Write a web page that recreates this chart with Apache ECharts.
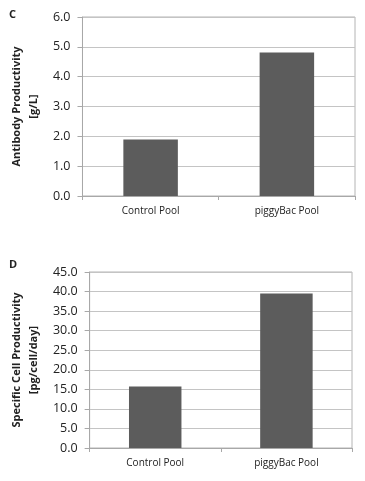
<!DOCTYPE html>
<html><head><meta charset="utf-8">
<script src="https://cdn.jsdelivr.net/npm/echarts@6/dist/echarts.min.js"></script>
<style>html,body{margin:0;padding:0;background:#fff}#c{width:365px;height:481px}</style>
</head><body><div id="c"></div>
<script>
const categories = ['Control Pool', 'piggyBac Pool'];
const antibodyValues = [1.89, 4.81];
const specificValues = [15.7, 39.5];
const ticksC = { min: 0, max: 6, interval: 1 };
const ticksD = { min: 0, max: 45, interval: 5 };

const font = '"Open Sans", "Liberation Sans", sans-serif';
const chart = echarts.init(document.getElementById('c'), null, {renderer: 'canvas'});
function xAx(gi){return {type:'category', gridIndex:gi, data:categories,
  axisLine:{lineStyle:{color:'#a8a8a8'}}, axisTick:{show:true, alignWithLabel:false, length:4, lineStyle:{color:'#a8a8a8'}},
  axisLabel:{color:'#222', fontSize:10, fontFamily:font, margin:10}};}
function yAx(gi, t, name){return {type:'value', gridIndex:gi, min:t.min, max:t.max, interval:t.interval,
  name:name, nameLocation:'middle', nameRotate:90, nameGap:37,
  nameTextStyle:{fontSize:11, fontWeight:'bold', fontFamily:font, color:'#222', lineHeight:17},
  axisLine:{show:true, lineStyle:{color:'#a8a8a8'}}, axisTick:{show:true, length:5, lineStyle:{color:'#a8a8a8'}},
  splitLine:{lineStyle:{color:'#c4c4c4'}},
  axisLabel:{color:'#222', fontSize:12.5, fontFamily:font, margin:12, formatter:v=>v.toFixed(1)}};}
chart.setOption({
  animation:false,
  graphic:[
    {type:'text', left:9, top:9, style:{text:'C', fontSize:11, fontWeight:'bold', fontFamily:font, fill:'#222'}},
    {type:'text', left:9, top:259, style:{text:'D', fontSize:11, fontWeight:'bold', fontFamily:font, fill:'#222'}}
  ],
  grid:[
    {left:80, top:17, width:275, height:179, show:true, borderColor:'#b4b4b4', borderWidth:1},
    {left:80, top:272, width:272, height:176, show:true, borderColor:'#b4b4b4', borderWidth:1}
  ],
  xAxis:[xAx(0), xAx(1)],
  yAxis:[yAx(0, ticksC, 'Antibody Productivity\n[g/L]'), yAx(1, ticksD, 'Specific Cell Productivity\n[pg/cell/day]')],
  series:[
    {type:'bar', xAxisIndex:0, yAxisIndex:0, data:antibodyValues, barWidth:'40%', itemStyle:{color:'#5c5c5c'}},
    {type:'bar', xAxisIndex:1, yAxisIndex:1, data:specificValues, barWidth:'40%', itemStyle:{color:'#5c5c5c'}}
  ]
});
</script></body></html>
